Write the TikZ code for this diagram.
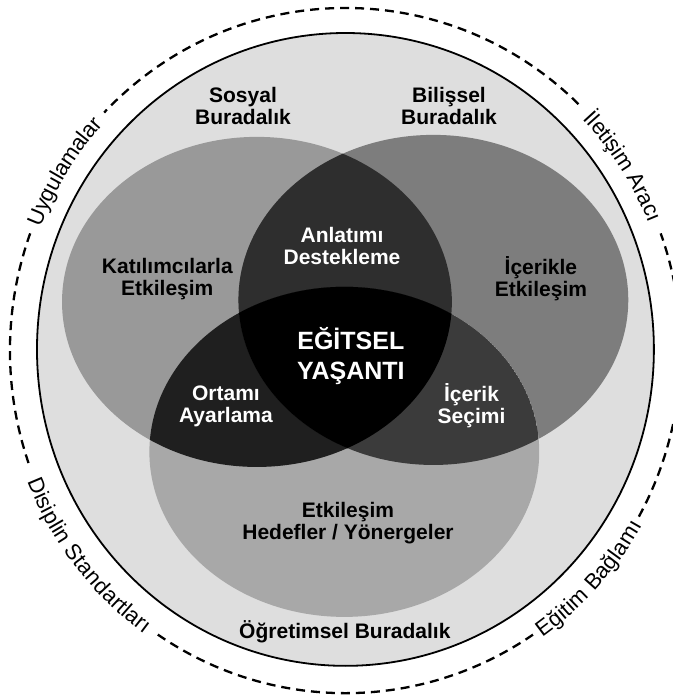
\documentclass[tikz,border=0pt]{standalone}
\usepackage{fontspec}
\setmainfont{Liberation Sans}
\usetikzlibrary{decorations}
\usetikzlibrary{decorations.text}

\definecolor{ringgray}{gray}{0.87}
\definecolor{sosyalgray}{gray}{0.60}
\definecolor{bilisgray}{gray}{0.49}
\definecolor{ogretgray}{gray}{0.66}
\definecolor{sbgray}{gray}{0.18}
\definecolor{sogray}{gray}{0.12}
\definecolor{bogray}{gray}{0.23}

\begin{document}
\begin{tikzpicture}[lbl/.style={font=\bfseries\fontsize{21}{22}\selectfont,align=center},wlbl/.style={lbl,text=white},dashline/.style={line width=2.3pt,dash pattern=on 9pt off 6pt}]
		% Set up ellipse centres
		\newcommand{\lft}{(-3.11,1.67)}
		\newcommand{\rgt}{(3.09,1.74)}
		\newcommand{\btm}{(-0.04,-3.60)}
		\newcommand{\dashfont}{\fontsize{22}{22}\selectfont}

		\useasboundingbox (-12.14,-12.25) rectangle (11.48,12.28);
		\draw[line width=1.8pt,fill=ringgray] (0,0) ellipse (10.84cm and 11.12cm);

		\fill[sosyalgray] \lft ellipse (6.85cm and 5.80cm);
		\fill[bilisgray] \rgt ellipse (6.85cm and 5.80cm);
		\fill[ogretgray] \btm ellipse (6.85cm and 5.80cm);
		\begin{scope}
		\clip \lft ellipse (6.85cm and 5.80cm);
		\fill[sbgray] \rgt ellipse (6.85cm and 5.80cm);
		\fill[sogray] \btm ellipse (6.85cm and 5.80cm);
		\clip \rgt ellipse (6.85cm and 5.80cm);
		\fill[black] \btm ellipse (6.85cm and 5.80cm);
		\end{scope}
		\begin{scope}
		\clip \rgt ellipse (6.85cm and 5.80cm);
		\clip \btm ellipse (6.85cm and 5.80cm);
		\fill[bogray] \btm ellipse (6.85cm and 5.80cm);
		\clip \lft ellipse (6.85cm and 5.80cm);
		\fill[black] \btm ellipse (6.85cm and 5.80cm);
		\end{scope}

		% dashed ring with its four labels
		\foreach \a/\b in {46/136,160/200,236/304,331/380}
		\draw[dashline] (0,-0.04) ++(\a:11.79cm and 12.04cm) arc[start angle=\a,end angle=\b,x radius=11.79cm,y radius=12.04cm];
		\path[decorate,decoration={text along path,text align=center,raise=-7.5pt,text={|\dashfont|Uygulamalar}}] (0,-0.04) ++(160:11.79cm and 12.04cm) arc[start angle=160,end angle=136,x radius=11.79cm,y radius=12.04cm];
		\path[decorate,decoration={text along path,text align=center,raise=-7.5pt,text={|\dashfont|İletişim Aracı}}] (0,-0.04) ++(46:11.79cm and 12.04cm) arc[start angle=46,end angle=20,x radius=11.79cm,y radius=12.04cm];
		\path[decorate,decoration={text along path,text align=center,raise=-7.5pt,text={|\dashfont|Disiplin Standartları}}] (0,-0.04) ++(200:11.79cm and 12.04cm) arc[start angle=200,end angle=236,x radius=11.79cm,y radius=12.04cm];
		\path[decorate,decoration={text along path,text align=center,raise=-7.5pt,text={|\dashfont|Eğitim Bağlamı}}] (0,-0.04) ++(304:11.79cm and 12.04cm) arc[start angle=304,end angle=331,x radius=11.79cm,y radius=12.04cm];

		\node[lbl] (sosyal) at (-3.60,8.56) {Sosyal\\Buradalık};
		\node[lbl] (bilis) at (3.64,8.56) {Bilişsel\\Buradalık};
		\node[lbl] (katil) at (-6.26,2.48) {Katılımcılarla\\Etkileşim};
		\node[lbl] (icerikle) at (6.87,2.48) {İçerikle\\Etkileşim};
		\node[wlbl] (anlatim) at (-0.12,3.64) {Anlatımı\\Destekleme};
		\node[wlbl,font=\bfseries\fontsize{25}{30}\selectfont] (yasanti) at (0.19,-0.23) {EĞİTSEL\\YAŞANTI};
		\node[wlbl] (ortam) at (-4.20,-1.99) {Ortamı\\Ayarlama};
		\node[wlbl] (secim) at (4.43,-1.99) {İçerik\\Seçimi};
		\node[lbl] (hedef) at (0.09,-6.10) {Etkileşim\\Hedefler / Yönergeler};
		\node[lbl] (ogret) at (-0.02,-9.93) {Öğretimsel Buradalık};
	\end{tikzpicture}
\end{document}
